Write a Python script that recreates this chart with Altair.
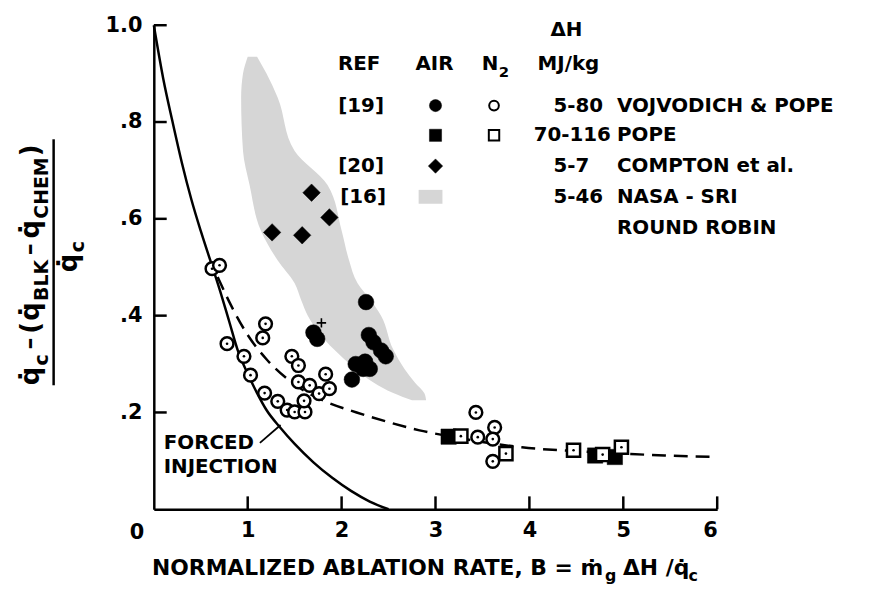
import altair as alt
import pandas as pd

FONT = "DejaVu Sans"

# ---------------- data ----------------
# N2, ref [19] (open circles)
n2_circ_B = [0.62, 0.70, 1.19, 1.16, 0.78, 0.96, 1.03, 1.18, 1.32, 1.42, 1.50, 1.61, 1.60,
             1.47, 1.54, 1.54, 1.66, 1.76, 1.83, 1.87, 3.43, 3.63, 3.45, 3.61, 3.61]
n2_circ_Q = [0.497, 0.504, 0.383, 0.354, 0.342, 0.316, 0.277, 0.240, 0.223, 0.205, 0.201, 0.201, 0.224,
             0.316, 0.297, 0.263, 0.256, 0.239, 0.279, 0.249, 0.200, 0.169, 0.149, 0.145, 0.099]
# AIR, ref [19] (filled circles)
air_circ_B = [1.70, 1.74, 2.26, 2.29, 2.34, 2.42, 2.47, 2.15, 2.23, 2.11, 2.30, 2.25]
air_circ_Q = [0.365, 0.352, 0.428, 0.360, 0.345, 0.328, 0.316, 0.300, 0.290, 0.268, 0.290, 0.305]
# AIR, Pope (filled squares)
air_sq_B = [3.14, 4.70, 4.91]
air_sq_Q = [0.150, 0.111, 0.108]
# N2, Pope (open squares)
n2_sq_B = [3.27, 3.75, 4.47, 4.78, 4.98]
n2_sq_Q = [0.151, 0.115, 0.122, 0.113, 0.128]
# AIR, ref [20] Compton (diamonds)
dia_B = [1.26, 1.58, 1.68, 1.87]
dia_Q = [0.572, 0.566, 0.654, 0.603]
# small cross mark
cross_B = [1.785]
cross_Q = [0.385]
# NASA-SRI round robin band [16]
band_Q = [0.935, 0.90, 0.85, 0.74, 0.67, 0.576, 0.514, 0.467, 0.432, 0.40, 0.33, 0.29, 0.262, 0.24, 0.225]
band_Bl = [1.00, 0.95, 0.93, 0.95, 1.02, 1.14, 1.32, 1.50, 1.57, 1.64, 1.92, 2.15, 2.34, 2.55, 2.75]
band_Br = [1.10, 1.20, 1.32, 1.50, 1.85, 2.00, 2.08, 2.17, 2.31, 2.42, 2.55, 2.67, 2.78, 2.88, 2.90]
# forced injection curve (solid)
solid_B = [0.0, 0.1, 0.2, 0.3, 0.4, 0.5, 0.6, 0.7, 0.8, 0.9, 1.0, 1.1, 1.2, 1.35, 1.5, 1.7, 1.9, 2.1, 2.3, 2.5]
solid_Q = [1.0, 0.89, 0.80, 0.715, 0.64, 0.575, 0.515, 0.455, 0.39, 0.325, 0.28, 0.24, 0.205, 0.168, 0.135,
           0.097, 0.065, 0.038, 0.016, 0.0]
# correlation curve (dashed)
dash_B = [0.68, 0.8, 1.0, 1.2, 1.43, 1.6, 1.81, 2.16, 2.5, 2.83, 3.2, 3.5, 3.92, 4.5, 5.0, 5.44, 6.0]
dash_Q = [0.48, 0.43, 0.36, 0.31, 0.268, 0.245, 0.224, 0.20, 0.18, 0.163, 0.149, 0.139, 0.128, 0.12,
          0.115, 0.111, 0.108]
# leader line of "FORCED INJECTION"
lead_B = [1.13, 1.35]
lead_Q = [0.137, 0.174]

x_ticks = [1, 2, 3, 4, 5, 6]
y_ticks = [0.2, 0.4, 0.6, 0.8, 1.0]

# ---------------- layout (pixel space of the plot area) ----------------
X0, Y0 = 155, 23          # page position of the plot origin
W, H = 568, 488
BAND = "#d6d6d6"

xs = alt.Scale(domain=[0, 6], nice=False, zero=False)
ys = alt.Scale(domain=[0, 1], nice=False)

one = alt.Data(values=[{}])


def txt(s, px, py, size=20, align="left", baseline="middle", angle=0):
    return alt.Chart(one).mark_text(
        text=s, align=align, baseline=baseline, angle=angle, fontSize=size,
        font=FONT, fontWeight="bold", color="black"
    ).encode(x=alt.value(px - X0), y=alt.value(py - Y0))


def sym(shape, px, py, size, filled=True, sw=2.0):
    return alt.Chart(one).mark_point(
        shape=shape, filled=True, size=size, opacity=1,
        fill="black" if filled else "white", stroke="black", strokeWidth=sw
    ).encode(x=alt.value(px - X0), y=alt.value(py - Y0))


band_df = pd.DataFrame({"Q": band_Q, "Bl": band_Bl, "Br": band_Br})
band = alt.Chart(band_df).mark_area(orient="horizontal", interpolate="monotone", color=BAND,
                                    opacity=1).encode(
    y=alt.Y("Q:Q", scale=ys, axis=alt.Axis(
        values=y_ticks, title=None, grid=False, ticks=False, tickSize=0, domainColor="black",
        domainWidth=2.5, labelFont=FONT, labelFontWeight="bold", labelFontSize=21, labelColor="black",
        labelPadding=12, labelExpr="datum.value >= 1 ? '1.0' : '.' + round(datum.value*10)")),
    x=alt.X("Bl:Q", scale=xs, axis=alt.Axis(
        values=x_ticks, title=None, grid=False, ticks=False, tickSize=0, domainColor="black",
        domainWidth=2.5, labelFont=FONT, labelFontWeight="bold", labelFontSize=21, labelColor="black",
        labelPadding=10, format="d")),
    x2="Br:Q",
)

ytick_df = pd.DataFrame({"v": y_ticks})
yt = alt.Chart(ytick_df).mark_rule(color="black", strokeWidth=2.5).encode(
    y=alt.Y("v:Q", scale=ys), x=alt.value(0), x2=alt.value(13))
xtick_df = pd.DataFrame({"v": x_ticks})
xt = alt.Chart(xtick_df).mark_rule(color="black", strokeWidth=2.5).encode(
    x=alt.X("v:Q", scale=xs), y=alt.value(H), y2=alt.value(H - 13))

solid = alt.Chart(pd.DataFrame({"B": solid_B, "Q": solid_Q})).mark_line(
    color="black", strokeWidth=2.5, interpolate="monotone").encode(
    x=alt.X("B:Q", scale=xs), y=alt.Y("Q:Q", scale=ys))
dashed = alt.Chart(pd.DataFrame({"B": dash_B, "Q": dash_Q})).mark_line(
    color="black", strokeWidth=2.5, strokeDash=[14, 8], interpolate="monotone").encode(
    x=alt.X("B:Q", scale=xs), y=alt.Y("Q:Q", scale=ys))
lead = alt.Chart(pd.DataFrame({"B": lead_B, "Q": lead_Q})).mark_line(
    color="black", strokeWidth=1.8).encode(
    x=alt.X("B:Q", scale=xs), y=alt.Y("Q:Q", scale=ys))


def pts(B, Q, shape, size, filled, sw=2.5):
    return alt.Chart(pd.DataFrame({"B": B, "Q": Q})).mark_point(
        shape=shape, size=size, filled=True, opacity=1,
        fill="black" if filled else "white", stroke="black", strokeWidth=sw).encode(
        x=alt.X("B:Q", scale=xs), y=alt.Y("Q:Q", scale=ys))


def dots(B, Q):
    return alt.Chart(pd.DataFrame({"B": B, "Q": Q})).mark_circle(
        size=7, color="black", opacity=1).encode(
        x=alt.X("B:Q", scale=xs), y=alt.Y("Q:Q", scale=ys))


air_c = pts(air_circ_B, air_circ_Q, "circle", 250, True, 0.5)
air_s = pts(air_sq_B, air_sq_Q, "square", 240, True, 0.5)
dia = pts(dia_B, dia_Q, "diamond", 310, True, 0.5)
n2_s = pts(n2_sq_B, n2_sq_Q, "square", 175, False)
n2_c = pts(n2_circ_B, n2_circ_Q, "circle", 165, False)
d1 = dots(n2_circ_B, n2_circ_Q)
d2 = dots(n2_sq_B, n2_sq_Q)
cross = alt.Chart(pd.DataFrame({"B": cross_B, "Q": cross_Q})).mark_point(
    shape="M-1,0L1,0M0,-1L0,1", size=90, filled=False, stroke="black", strokeWidth=1.6, opacity=1).encode(
    x=alt.X("B:Q", scale=xs), y=alt.Y("Q:Q", scale=ys))

texts = [
    # legend header
    txt("ΔH", 571, 28, 20, "center"),
    txt("REF", 362, 62, 20, "center"),
    txt("AIR", 438, 62, 20, "center"),
    txt("N", 494, 62, 20, "center"),
    txt("2", 508, 70, 15, "center"),
    txt("MJ/kg", 573, 62, 20, "center"),
    # legend rows
    txt("[19]", 364, 104, 20, "center"),
    txt("5-80", 558, 104, 20),
    txt("VOJVODICH & POPE", 622, 104, 20),
    txt("70-116", 538, 134, 20),
    txt("POPE", 622, 134, 20),
    txt("[20]", 364, 165, 20, "center"),
    txt("5-7", 558, 165, 20),
    txt("COMPTON et al.", 622, 165, 20),
    txt("[16]", 366, 196, 20, "center"),
    txt("5-46", 558, 196, 20),
    txt("NASA - SRI", 622, 196, 20),
    txt("ROUND ROBIN", 622, 227, 20),
    # curve label
    txt("FORCED", 165, 444, 20),
    txt("INJECTION", 165, 468, 20),
    # shared zero
    txt("0", 138, 535, 21, "center"),
    # x title
    txt("NORMALIZED ABLATION RATE, B = ṁ", 608, 577, 22, "right", "alphabetic"),
    txt("g", 610, 583, 16, "left", "alphabetic"),
    txt("ΔH /q̇", 628, 577, 22, "left", "alphabetic"),
    txt("c", 694, 583, 16, "left", "alphabetic"),
    # y title (rotated fraction)
    txt("q̇", 39, 386, 26, "left", "alphabetic", 270),
    txt("c", 48, 366, 19, "left", "alphabetic", 270),
    txt("–", 37, 350, 24, "left", "alphabetic", 270),
    txt("(", 39, 334, 26, "left", "alphabetic", 270),
    txt("q̇", 39, 321, 26, "left", "alphabetic", 270),
    txt("BLK", 48, 301, 19, "left", "alphabetic", 270),
    txt("–", 37, 255, 24, "left", "alphabetic", 270),
    txt("q̇", 39, 238, 26, "left", "alphabetic", 270),
    txt("CHEM", 48, 218, 19, "left", "alphabetic", 270),
    txt(")", 39, 155, 26, "left", "alphabetic", 270),
    txt("q̇", 78, 272, 26, "left", "alphabetic", 270),
    txt("c", 85, 252, 19, "left", "alphabetic", 270),
]

frac_bar = alt.Chart(one).mark_rule(color="black", strokeWidth=2.5).encode(
    x=alt.value(54 - X0), y=alt.value(138 - Y0), y2=alt.value(386 - Y0))

legend_syms = [
    sym("circle", 439, 104, 150, True, 0.5),
    sym("circle", 498, 104, 95, False, 2.0),
    sym("square", 439, 134, 150, True, 0.5),
    sym("square", 498, 134, 110, False, 2.0),
    sym("diamond", 439, 165, 210, True, 0.5),
]
legend_band = alt.Chart(one).mark_rect(color=BAND).encode(
    x=alt.value(422 - X0), x2=alt.value(446 - X0), y=alt.value(189 - Y0), y2=alt.value(203 - Y0))

chart = alt.layer(
    band, legend_band, yt, xt, solid, dashed, lead,
    air_c, air_s, dia, n2_s, n2_c, d1, d2, cross,
    frac_bar, *legend_syms, *texts
).properties(
    width=W, height=H,
    background="white",
    autosize=alt.AutoSizeParams(type="none"),
    padding={"left": 147, "top": 15, "right": 148, "bottom": 74},
).configure_view(stroke=None)

chart.save("out.html", embed_options={"renderer": "svg", "actions": False})
